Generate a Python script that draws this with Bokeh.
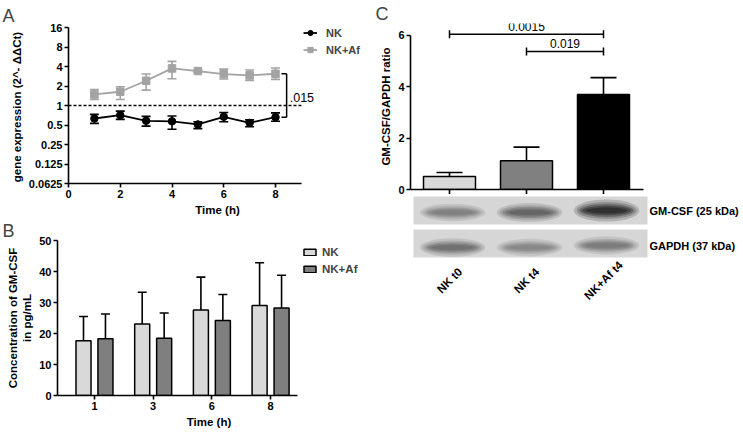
import math
from math import pi
from bokeh.plotting import figure
from bokeh.layouts import row, column
from bokeh.models import (Range1d, FixedTicker, Whisker, TeeHead, Legend, LegendItem,
                          ColumnDataSource, CustomJSTickFormatter)
from bokeh.embed import file_html
from bokeh.resources import INLINE
from bokeh.core.properties import value

# ---------------- data ----------------
# Panel A: gene expression (2^-ddCt), mean with error range
time_h = [1, 2, 3, 4, 5, 6, 7, 8]
nk_mean = [0.63, 0.71, 0.58, 0.57, 0.51, 0.67, 0.54, 0.66]
nk_lo = [0.53, 0.61, 0.48, 0.43, 0.44, 0.56, 0.47, 0.57]
nk_hi = [0.73, 0.82, 0.68, 0.69, 0.56, 0.78, 0.60, 0.77]
af_mean = [1.48, 1.63, 2.41, 3.74, 3.40, 3.06, 2.92, 3.09]
af_lo = [1.24, 1.24, 1.73, 2.59, 3.28, 2.56, 2.44, 2.53]
af_hi = [1.77, 1.95, 3.06, 4.80, 3.52, 3.65, 3.53, 3.79]
a_yticks = [0.0625, 0.125, 0.25, 0.5, 1, 2, 4, 8, 16]
a_xticks = [0, 2, 4, 6, 8]
a_ref_level = 1.0
a_ref_x = [0, 9]
a_pvalue = ".015"
a_pvalue_y = 1.35

# Panel B: GM-CSF concentration (pg/mL)
b_times = ["1", "3", "6", "8"]
b_nk = [17.7, 23.1, 27.6, 29.0]
b_nk_err = [25.5, 33.3, 38.2, 42.8]
b_af = [18.3, 18.5, 24.2, 28.2]
b_af_err = [26.3, 26.6, 32.6, 38.8]
b_yticks = [0, 10, 20, 30, 40, 50]

# Panel C: GM-CSF/GAPDH ratio
c_groups = ["NK t0", "NK t4", "NK+Af t4"]
c_vals = [0.51, 1.12, 3.70]
c_err = [0.66, 1.65, 4.36]
c_yticks = [0, 2, 4, 6]
c_brackets = [(0, 2, 6.05, "0.0015"), (1, 2, 5.38, "0.019")]
# western blot band darkness (0 = none, 1 = black)
blot_names = ["GM-CSF (25 kDa)", "GAPDH (37 kDa)"]
gm_band = [0.45, 0.62, 0.93]
gapdh_band = [0.55, 0.42, 0.48]

# ---------------- styling helpers ----------------
FONT = "Liberation Sans"
AX_W = 1.6


def style(p):
    for ax in p.axis:
        ax.axis_line_width = AX_W
        ax.major_tick_line_width = AX_W
        ax.major_tick_in = 0
        ax.major_tick_out = 4
        ax.minor_tick_line_color = None
        ax.major_label_text_font = FONT
        ax.major_label_text_font_style = "bold"
        ax.major_label_text_font_size = "11px"
        ax.major_label_text_color = "black"
        ax.axis_label_text_font = FONT
        ax.axis_label_text_font_style = "bold"
        ax.axis_label_text_font_size = "11.5px"
        ax.axis_label_text_color = "black"
        ax.major_label_standoff = 2
        ax.axis_label_standoff = 3
    p.grid.visible = False
    p.outline_line_color = None
    p.background_fill_color = None
    p.border_fill_color = None
    p.frame_align = False


def letter(p, t, offset, standoff):
    p.title.text = t
    p.title.text_font = FONT
    p.title.text_font_size = "18px"
    p.title.text_font_style = "normal"
    p.title.align = "left"
    p.title.offset = offset
    p.title.standoff = standoff


# ---------------- Panel A ----------------
A_PX = 25.875          # px per hour
A_LEFT, A_TOP, A_FW, A_FH = 68, 27, 298, 156
pA = figure(width=366, height=218, x_range=Range1d(0, A_FW / A_PX),
            y_range=Range1d(0.0625, 16), y_axis_type="log",
            output_backend="svg", toolbar_location=None,
            min_border_left=A_LEFT, min_border_right=366 - A_LEFT - A_FW,
            min_border_top=A_TOP, min_border_bottom=218 - A_TOP - A_FH)
style(pA)
pA.xaxis.ticker = FixedTicker(ticks=a_xticks)
pA.xaxis.bounds = (0, 9)
pA.yaxis.ticker = FixedTicker(ticks=a_yticks)
pA.yaxis.formatter = CustomJSTickFormatter(code="return tick.toString();")
pA.xaxis.axis_label = "Time (h)"
pA.yaxis.axis_label = "gene expression (2^-  \u0394\u0394Ct)"
letter(pA, "A", 2 - A_LEFT, 4)

GRAY_A = "#a3a3a3"
pA.line(a_ref_x, [a_ref_level, a_ref_level], line_color="black", line_width=1.4, line_dash="3 2")

srcN = ColumnDataSource(dict(x=time_h, y=nk_mean, lo=nk_lo, hi=nk_hi))
srcF = ColumnDataSource(dict(x=time_h, y=af_mean, lo=af_lo, hi=af_hi))
for src, col in ((srcF, GRAY_A), (srcN, "black")):
    pA.add_layout(Whisker(source=src, base="x", lower="lo", upper="hi", line_color=col, line_width=1.6,
                          upper_head=TeeHead(size=9, line_color=col, line_width=1.6),
                          lower_head=TeeHead(size=9, line_color=col, line_width=1.6)))
lF = pA.line("x", "y", source=srcF, line_color=GRAY_A, line_width=1.8)
sF = pA.scatter("x", "y", source=srcF, marker="square", size=7.5, fill_color=GRAY_A, line_color=GRAY_A)
lN = pA.line("x", "y", source=srcN, line_color="black", line_width=1.8)
sN = pA.scatter("x", "y", source=srcN, marker="circle", size=7.5, fill_color="black", line_color="black")

# significance bracket between last points
bx = 8.43
cap = 0.2
pA.segment(x0=[bx, bx - cap, bx - cap], y0=[af_mean[-1], af_mean[-1], nk_mean[-1]],
           x1=[bx, bx, bx], y1=[nk_mean[-1], af_mean[-1], nk_mean[-1]],
           line_color="black", line_width=1.5)
pA.text(x=[bx + 0.12], y=[a_pvalue_y], text=[a_pvalue], text_font=value(FONT),
        text_font_size="12.5px", text_baseline="middle", text_align="left", text_color="black")

legA = Legend(items=[LegendItem(label="NK", renderers=[lN, sN]),
                     LegendItem(label="NK+Af", renderers=[lF, sF])],
              location=(235, 127), padding=0, margin=0, spacing=4,
              glyph_width=14, glyph_height=13, label_height=13, label_width=40, label_standoff=9,
              border_line_color=None, background_fill_alpha=0,
              label_text_font=FONT, label_text_font_style="bold", label_text_font_size="11px")
pA.add_layout(legA)

# ---------------- Panel B ----------------
B_PX = 58.7
B_X0 = -0.63
B_LEFT, B_TOP, B_FW, B_FH = 57, 22, 303, 155
pB = figure(width=366, height=214, x_range=Range1d(B_X0, B_X0 + B_FW / B_PX), y_range=Range1d(0, 50),
            output_backend="svg", toolbar_location=None,
            min_border_left=B_LEFT, min_border_right=366 - B_LEFT - B_FW,
            min_border_top=B_TOP, min_border_bottom=214 - B_TOP - B_FH)
style(pB)
pB.xaxis.ticker = FixedTicker(ticks=list(range(len(b_times))))
pB.xaxis.major_label_overrides = {i: t for i, t in enumerate(b_times)}
pB.xaxis.bounds = (B_X0, 3.46)
pB.yaxis.ticker = FixedTicker(ticks=b_yticks)
pB.yaxis.bounds = (0, 50)
pB.xaxis.axis_label = "Time (h)"
pB.yaxis.axis_label = "Concentration of GM-CSF\nin pg/mL"
letter(pB, "B", 2 - B_LEFT, 0)

off, bw = 0.187, 0.256
xs = list(range(len(b_times)))
srcBN = ColumnDataSource(dict(x=[i - off for i in xs], top=b_nk, err=b_nk_err))
srcBF = ColumnDataSource(dict(x=[i + off for i in xs], top=b_af, err=b_af_err))
for src in (srcBN, srcBF):
    pB.add_layout(Whisker(source=src, base="x", lower="top", upper="err", line_color="black", line_width=1.6,
                          upper_head=TeeHead(size=9, line_color="black", line_width=1.6), lower_head=None))
vN = pB.vbar(x="x", top="top", width=bw, source=srcBN, fill_color="#d9d9d9", line_color="black", line_width=1.5)
vF = pB.vbar(x="x", top="top", width=bw, source=srcBF, fill_color="#7f7f7f", line_color="black", line_width=1.5)
legB = Legend(items=[LegendItem(label="NK", renderers=[vN]), LegendItem(label="NK+Af", renderers=[vF])],
              location=(245, 120), padding=0, margin=0, spacing=4,
              glyph_width=15, glyph_height=8, label_height=13, label_width=45, label_standoff=5,
              border_line_color=None, background_fill_alpha=0,
              label_text_font=FONT, label_text_font_style="bold", label_text_font_size="11.5px")
pB.add_layout(legB)

# ---------------- Panel C (bars) ----------------
C_W = 743 - 366
C_PX = 77.0
C_LEFT = 410 - 366       # border inside the C figures
C_X0 = -(449 - 410) / C_PX
C_YPX = 25.67
C_TOP, C_FH = 23, 166
pC = figure(width=C_W, height=194, x_range=Range1d(C_X0, C_X0 + 233 / C_PX),
            y_range=Range1d(0, C_FH / C_YPX),
            output_backend="svg", toolbar_location=None,
            min_border_left=C_LEFT, min_border_right=C_W - C_LEFT - 233,
            min_border_top=C_TOP, min_border_bottom=194 - C_TOP - C_FH)
style(pC)
pC.xaxis.ticker = FixedTicker(ticks=list(range(len(c_groups))))
pC.xaxis.formatter = CustomJSTickFormatter(code="return '';")
pC.xaxis.major_label_standoff = 0
pC.xaxis.major_tick_out = 5
pC.yaxis.ticker = FixedTicker(ticks=c_yticks)
pC.yaxis.bounds = (0, 6)
pC.yaxis.axis_label = "GM-CSF/GAPDH ratio"
letter(pC, "C", 375 - 410, 0)

srcC = ColumnDataSource(dict(x=list(range(len(c_groups))), top=c_vals, err=c_err,
                             color=["#d9d9d9", "#808080", "#000000"]))
pC.add_layout(Whisker(source=srcC, base="x", lower="top", upper="err", line_color="black", line_width=1.6,
                      upper_head=TeeHead(size=26, line_color="black", line_width=1.6), lower_head=None))
pC.vbar(x="x", top="top", width=52 / C_PX, source=srcC, fill_color="color", line_color="black", line_width=1.5)

capC = 4 / C_YPX
for (a, b, yv, t) in c_brackets:
    pC.segment(x0=[a, a, b], y0=[yv, yv - capC, yv - capC], x1=[b, a, b], y1=[yv, yv + capC, yv + capC],
               line_color="black", line_width=1.5)
    pC.text(x=[(a + b) / 2], y=[yv + 3 / C_YPX], text=[t], text_font=value(FONT), text_font_size="12px",
            text_baseline="bottom", text_align="center", text_color="black")

# ---------------- Panel C (blot + group labels) ----------------
C2_H = 432 - 194
C2_FH = 116                     # frame from window y=194 down to y=310 (1 unit = 1 px)
pC2 = figure(width=C_W, height=C2_H, x_range=Range1d(C_X0, C_X0 + (C_W - C_LEFT) / C_PX),
             y_range=Range1d(0, C2_FH),
             output_backend="svg", toolbar_location=None,
             min_border_left=C_LEFT, min_border_right=0, min_border_top=0, min_border_bottom=C2_H - C2_FH)
style(pC2)
pC2.yaxis.visible = False
pC2.xaxis.visible = False

sx0 = (413 - 449) / C_PX
sx1 = (647 - 449) / C_PX
strip_y = [C2_FH - 16, C2_FH - 16 - 33]   # centres of the two strips
pC2.rect(x=[(sx0 + sx1) / 2] * 2, y=strip_y, width=sx1 - sx0, height=28,
         fill_color="#d6d6d6", line_color=None)


def gray(d):
    g = int(round(205 * (1 - d)))
    return "#%02x%02x%02x" % (g, g, g)


lanes = list(range(len(c_groups)))
layers = [(1.15, 1.9, 0.18), (1.05, 1.45, 0.22), (0.95, 1.1, 0.3), (0.85, 0.8, 0.35), (0.72, 0.5, 0.4)]
for bands, yc, dy in ((gm_band, strip_y[0], -2), (gapdh_band, strip_y[1], -4)):
    for li in lanes:
        d = bands[li]
        w = 0.74
        h = 7 + 5 * d
        for sc_w, sc_h, al in layers:
            pC2.ellipse(x=[li + 0.04], y=[yc + dy + (2 if li == 2 else 0)], width=w * sc_w, height=h * sc_h,
                        fill_color=gray(d), fill_alpha=al, line_color=None)

pC2.text(x=[(649 - 449) / C_PX] * 2, y=[strip_y[0], strip_y[1] - 2], text=blot_names, text_font=value(FONT),
         text_font_size="11px", text_font_style="bold", text_baseline="middle", text_align="left",
         text_color="black")

# rotated group labels, centred under each lane
pC2.text(x=lanes, y=[C2_FH - (280 - 194)] * len(lanes), text=c_groups, angle=pi / 4,
         text_font=value(FONT), text_font_size="11.5px", text_font_style="bold",
         text_align="center", text_baseline="middle", text_color="black")

layout = row(column(pA, pB), column(pC, pC2))
open("out.html", "w").write(file_html(layout, INLINE))
